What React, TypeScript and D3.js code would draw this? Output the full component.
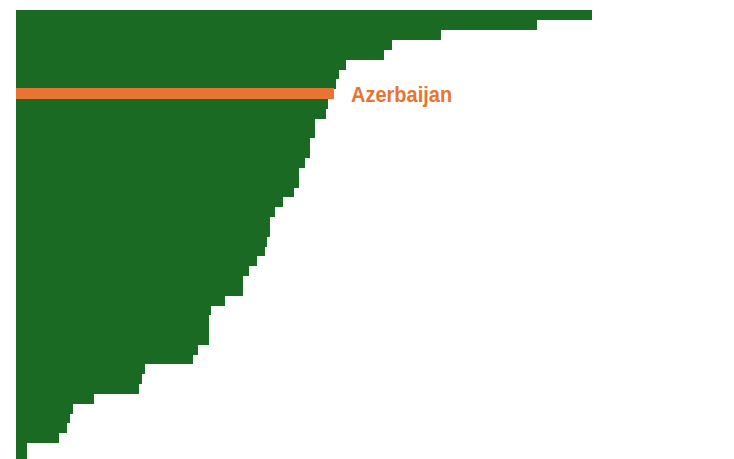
import React from "react";
import * as d3 from "d3";

// bar values, sorted descending (arbitrary units)
const values = [
  576, 521, 425, 376, 368, 330, 323, 320, 318, 312, 310, 299, 299, 294, 294,
  289, 283, 283, 278, 267, 259, 254, 254, 251, 249, 241, 233, 227, 227, 209,
  195, 193, 193, 193, 182, 177, 129, 126, 123, 78, 57, 54, 51, 43, 11, 11,
];
const countries = values.map((_, i) => (i === 8 ? "Azerbaijan" : `Country ${i + 1}`));
const highlight = "Azerbaijan";

export default function App({
  width = 734,
  height = 459,
  marginTop = 10,
  marginLeft = 16,
  step = 9.83,
}) {
  const x = d3
    .scaleLinear()
    .domain([0, d3.max(values)])
    .range([marginLeft, 592]);

  const y = d3
    .scaleBand()
    .domain(countries)
    .range([marginTop, marginTop + countries.length * step])
    .padding(0);

  const hi = countries.indexOf(highlight);
  // draw the highlighted bar last so neighbours don't cover it
  const order = countries.map((_, i) => i).filter((i) => i !== hi).concat([hi]);

  return (
    <div style={{ position: "fixed", left: 0, top: 0, width, height, overflow: "hidden", background: "#fff" }}>
      <svg width={width} height={height} style={{ display: "block" }}>
        <g shapeRendering="crispEdges">
          {order.map((i) => {
            const isHi = i === hi;
            return (
              <rect
                key={countries[i]}
                x={x(0)}
                y={y(countries[i]) - (isHi ? 0.7 : 0)}
                width={x(values[i]) - x(0)}
                height={y.bandwidth() + (isHi ? 1.4 : 0.6)}
                fill={isHi ? "#e87333" : "#1b6a24"}
              />
            );
          })}
        </g>
        <text
          transform={`translate(${x(values[hi]) + 17},${y(highlight) + y.bandwidth() / 2 + 8}) scale(1,1.1)`}
          fill="#e87333"
          fontFamily="Liberation Sans, Arial, sans-serif"
          fontWeight="bold"
          fontSize={20}
        >
          {highlight}
        </text>
      </svg>
    </div>
  );
}
